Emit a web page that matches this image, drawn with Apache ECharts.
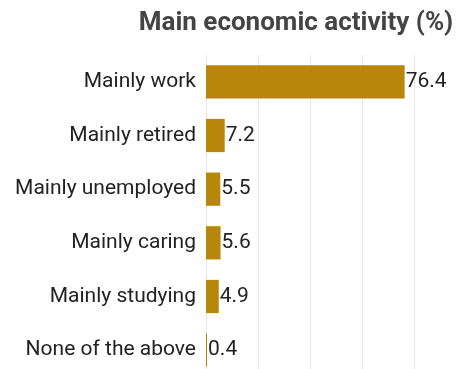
<!DOCTYPE html>
<html>
<head>
<meta charset="utf-8">
<script src="https://cdn.jsdelivr.net/npm/echarts@6/dist/echarts.min.js"></script>
<style>
  html, body { margin: 0; padding: 0; background: #fff; }
  #chart { width: 457px; height: 369px; }
</style>
</head>
<body>
<div id="chart"></div>
<script>
// Categories listed bottom-to-top (ECharts draws the first category at the bottom)
const categories = ['None of the above', 'Mainly studying', 'Mainly caring', 'Mainly unemployed', 'Mainly retired', 'Mainly work'];
const shares = [0.4, 4.9, 5.6, 5.5, 7.2, 76.4];
const titleText = 'Main economic activity (%)';

const chart = echarts.init(document.getElementById('chart'));
chart.setOption({
  animation: false,
  title: {
    text: titleText,
    left: 291,
    textAlign: 'center',
    top: 5,
    textStyle: { fontFamily: 'Roboto', fontSize: 26, fontWeight: 'bold', color: '#444' }
  },
  grid: {
    left: 206, width: 208, top: 55, height: 322,
    containLabel: false, outerBoundsMode: 'none'
  },
  xAxis: {
    type: 'value',
    min: 0, max: 80, interval: 20,
    axisLabel: { show: false },
    axisLine: { show: false },
    axisTick: { show: false },
    splitLine: { show: true, lineStyle: { color: '#e6e6e6', width: 1 } }
  },
  yAxis: {
    type: 'category',
    data: categories,
    axisLine: { show: false },
    axisTick: { show: false },
    axisLabel: { fontFamily: 'Roboto', fontSize: 21, color: '#222', margin: 10 }
  },
  series: [{
    type: 'bar',
    data: shares,
    barCategoryGap: '38%',
    itemStyle: { color: '#B8860B' },
    label: {
      show: true, position: 'right', distance: 1,
      fontFamily: 'Roboto', fontSize: 21, color: '#222'
    }
  }]
});
</script>
</body>
</html>
